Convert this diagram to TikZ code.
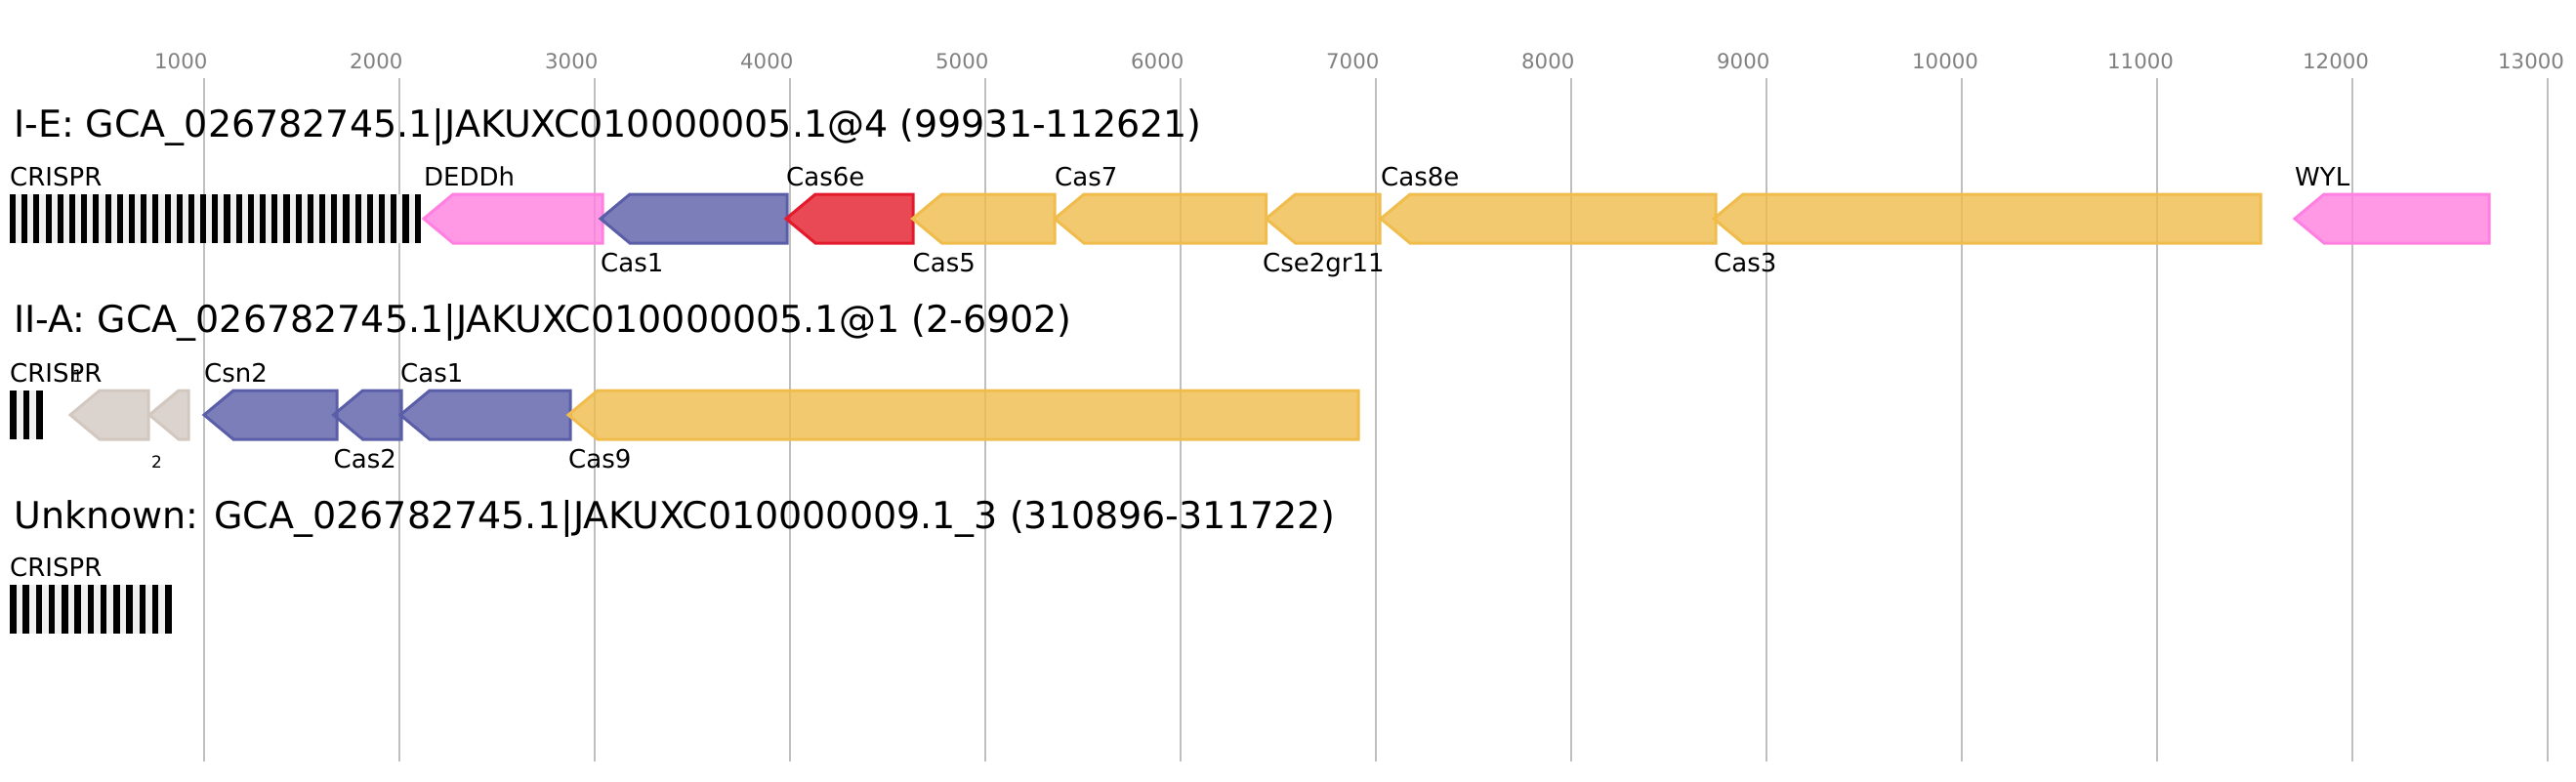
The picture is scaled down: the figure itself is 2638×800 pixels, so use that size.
\documentclass[tikz,border=0pt]{standalone}
\usepackage{fontspec}
\setmainfont{DejaVu Sans}
\definecolor{gridC}{HTML}{BFBFBF}
\definecolor{tickC}{HTML}{808080}
\definecolor{pinkC}{HTML}{FF80E0}
\definecolor{blueC}{HTML}{5A5EA8}
\definecolor{redC}{HTML}{E31A2B}
\definecolor{yellowC}{HTML}{F0BC4C}
\definecolor{grayC}{HTML}{D2C8C0}
\definecolor{crisprbgC}{HTML}{F0F0F0}
\newcommand{\revgene}[4]{%
  \draw[genebox=#4] (#1,#3+25) -- (#1+30,#3) -- (#2,#3) -- (#2,#3+50) -- (#1+30,#3+50) -- cycle;}
\newcommand{\crisprarr}[4]{%
  \fill[crisprbgC] (#1,#3) rectangle (#2,#3+50);
  \pgfmathsetmacro\segw{(#2-#1)/(2*#4-1)}%
  \pgfmathtruncatemacro\nlast{#4-1}%
  \foreach \i in {0,...,\nlast} {\fill[black] (#1+2*\i*\segw,#3) rectangle (#1+2*\i*\segw+\segw,#3+50);}}
\begin{document}
\begin{tikzpicture}[x=1pt,y=-1pt,
  gridline/.style={draw=gridC, line width=2pt},
  ticklbl/.style={anchor=base west, inner sep=0, text=tickC, font=\fontsize{21.3}{24}\selectfont},
  titlelbl/.style={anchor=base west, inner sep=0, font=\fontsize{38}{44}\selectfont},
  glabel/.style={anchor=base west, inner sep=0, font=\fontsize{26}{30}\selectfont},
  slabel/.style={anchor=base west, inner sep=0, font=\fontsize{17}{20}\selectfont},
  genebox/.style={line width=3pt, draw=#1, fill=#1, fill opacity=0.8, line join=miter},
]
\useasboundingbox (0,0) rectangle (2638,800);
% grid and ticks
\foreach \v in {1000,2000,...,13000} {
  \pgfmathsetmacro\gx{9+0.2*\v}
  \draw[gridline] (\gx,80) -- (\gx,780);
  \node[ticklbl] (tick\v) at (\gx-51,70.7) {\v};
}
% ---------- Row 1 : I-E ----------
\node[titlelbl] (title1) at (14,140) {I-E: GCA\_026782745.1|JAKUXC010000005.1@4 (99931-112621)};
\crisprarr{10}{430.7}{199}{35}
\revgene{434}{617}{199}{pinkC}
\revgene{615}{806}{199}{blueC}
\revgene{805}{935}{199}{redC}
\revgene{934.5}{1080}{199}{yellowC}
\revgene{1080}{1296.5}{199}{yellowC}
\revgene{1296.5}{1413}{199}{yellowC}
\revgene{1414}{1757}{199}{yellowC}
\revgene{1755}{2315}{199}{yellowC}
\revgene{2350}{2549}{199}{pinkC}
\node[glabel] (l1a) at (10,190) {CRISPR};
\node[glabel] (l1b) at (434,190) {DEDDh};
\node[glabel] (l1c) at (615,278) {Cas1};
\node[glabel] (l1d) at (805,190) {Cas6e};
\node[glabel] (l1e) at (934.5,278) {Cas5};
\node[glabel] (l1f) at (1080,190) {Cas7};
\node[glabel] (l1g) at (1293,278) {Cse2gr11};
\node[glabel] (l1h) at (1414,190) {Cas8e};
\node[glabel] (l1i) at (1755,278) {Cas3};
\node[glabel] (l1j) at (2350,190) {WYL};
% ---------- Row 2 : II-A ----------
\node[titlelbl] (title2) at (14,340) {II-A: GCA\_026782745.1|JAKUXC010000005.1@1 (2-6902)};
\crisprarr{10}{44}{400}{3}
\revgene{72}{152}{400}{grayC}
\revgene{153}{193}{400}{grayC}
\revgene{209}{345}{400}{blueC}
\revgene{341.5}{411}{400}{blueC}
\revgene{410}{584}{400}{blueC}
\revgene{582}{1391}{400}{yellowC}
\node[glabel] (l2a) at (10,391) {CRISPR};
\node[slabel] (l2b) at (74,391) {1};
\node[slabel] (l2c) at (155,479) {2};
\node[glabel] (l2d) at (209,391) {Csn2};
\node[glabel] (l2e) at (341.5,479) {Cas2};
\node[glabel] (l2f) at (410,391) {Cas1};
\node[glabel] (l2g) at (582,479) {Cas9};
% ---------- Row 3 : Unknown ----------
\node[titlelbl] (title3) at (14,541) {Unknown: GCA\_026782745.1|JAKUXC010000009.1\_3 (310896-311722)};
\crisprarr{10}{175.7}{599}{13}
\node[glabel] (l3a) at (10,590) {CRISPR};
\end{tikzpicture}
\end{document}
